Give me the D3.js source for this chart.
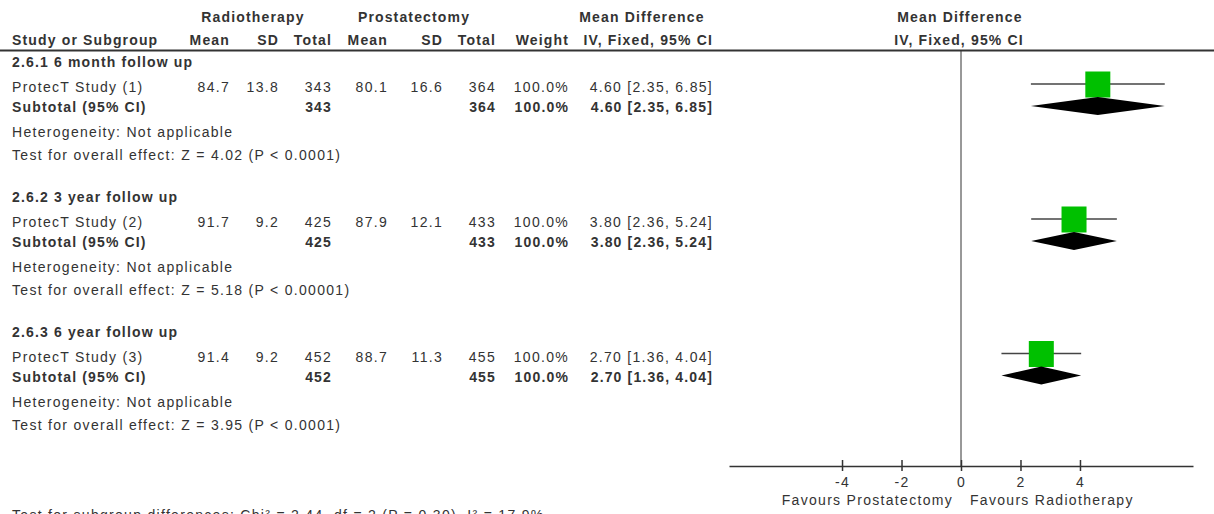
<!DOCTYPE html>
<html>
<head>
<meta charset="utf-8">
<script src="https://cdn.jsdelivr.net/npm/d3@7"></script>
<style>
  html, body { margin: 0; padding: 0; background: #fff; }
  svg { display: block; }
  text { font-family: "Liberation Sans", Arial, sans-serif; font-size: 14px; fill: #333; letter-spacing: 1.3px; }
  text.b { font-weight: bold; letter-spacing: 1.15px; }
</style>
</head>
<body>
<svg id="chart" width="1214" height="514"></svg>
<script>
// Subgroups and study rows
const groups = ["2.6.1 6 month follow up", "2.6.2 3 year follow up", "2.6.3 6 year follow up"];
const studies = ["ProtecT Study (1)", "ProtecT Study (2)", "ProtecT Study (3)"];
const radMean = [84.7, 91.7, 91.4];
const radSD = [13.8, 9.2, 9.2];
const radTotal = [343, 425, 452];
const proMean = [80.1, 87.9, 88.7];
const proSD = [16.6, 12.1, 11.3];
const proTotal = [364, 433, 455];
const weights = [100, 100, 100];
const meanDiff = [4.60, 3.80, 2.70];
const ciLow = [2.35, 2.36, 1.36];
const ciHigh = [6.85, 5.24, 4.04];
const overallZ = ["4.02", "5.18", "3.95"];
const overallP = ["P < 0.0001", "P < 0.00001", "P < 0.0001"];
const tickValues = [-4, -2, 0, 2, 4];
const favourLabels = ["Favours Prostatectomy", "Favours Radiotherapy"];
const subgroupTest = "Test for subgroup differences: Chi\u00B2 = 2.44, df = 2 (P = 0.30), I\u00B2 = 17.9%";

const svg = d3.select("#chart");

// Table layout
const leftX = 12;
const colRight = { rMean: 230, rSD: 279, rTot: 332, pMean: 388, pSD: 443, pTot: 496, w: 569, ci: 713 };
const groupTop = [62, 197, 331.5];
const base = 5; // text baseline offset from row centre

// Plot scales
const x = d3.scaleLinear().domain([-7.8, 7.8]).range([729, 1193]);
const size = d3.scaleSqrt().domain([0, 100]).range([0, 25]);
const axisY = 466;
const headerLineY = 50.5;

function txt(g, s, xPos, y, anchor, bold) {
  return g.append("text")
    .attr("x", xPos).attr("y", y + base)
    .attr("text-anchor", anchor || "start")
    .attr("class", bold ? "b" : null)
    .text(s);
}

const fmt1 = d3.format(".1f");
const fmt2 = d3.format(".2f");
const ciText = i => `${fmt2(meanDiff[i])} [${fmt2(ciLow[i])}, ${fmt2(ciHigh[i])}]`;

// Column headers
const hdr = svg.append("g");
txt(hdr, "Radiotherapy", 253, 17, "middle", true);
txt(hdr, "Prostatectomy", 414, 17, "middle", true);
txt(hdr, "Mean Difference", 642, 17, "middle", true);
txt(hdr, "Mean Difference", 960, 17, "middle", true);
txt(hdr, "Study or Subgroup", leftX, 40, "start", true);
txt(hdr, "Mean", colRight.rMean, 40, "end", true);
txt(hdr, "SD", colRight.rSD, 40, "end", true);
txt(hdr, "Total", colRight.rTot, 40, "end", true);
txt(hdr, "Mean", colRight.pMean, 40, "end", true);
txt(hdr, "SD", colRight.pSD, 40, "end", true);
txt(hdr, "Total", colRight.pTot, 40, "end", true);
txt(hdr, "Weight", colRight.w, 40, "end", true);
txt(hdr, "IV, Fixed, 95% CI", colRight.ci, 40, "end", true);
txt(hdr, "IV, Fixed, 95% CI", 959, 40, "middle", true);

svg.append("line")
  .attr("x1", 0).attr("x2", 1214)
  .attr("y1", headerLineY).attr("y2", headerLineY)
  .attr("stroke", "#333").attr("stroke-width", 2);

// Line of no effect
svg.append("line")
  .attr("x1", x(0)).attr("x2", x(0))
  .attr("y1", headerLineY).attr("y2", axisY)
  .attr("stroke", "#333").attr("stroke-width", 1);

// Subgroup blocks
groups.forEach((name, i) => {
  const g = svg.append("g");
  const y0 = groupTop[i];
  const yStudy = y0 + 25, ySub = y0 + 45, yHet = y0 + 70, yTest = y0 + 93;

  txt(g, name, leftX, y0, "start", true);

  txt(g, studies[i], leftX, yStudy);
  txt(g, fmt1(radMean[i]), colRight.rMean, yStudy, "end");
  txt(g, fmt1(radSD[i]), colRight.rSD, yStudy, "end");
  txt(g, radTotal[i], colRight.rTot, yStudy, "end");
  txt(g, fmt1(proMean[i]), colRight.pMean, yStudy, "end");
  txt(g, fmt1(proSD[i]), colRight.pSD, yStudy, "end");
  txt(g, proTotal[i], colRight.pTot, yStudy, "end");
  txt(g, fmt1(weights[i]) + "%", colRight.w, yStudy, "end");
  txt(g, ciText(i), colRight.ci, yStudy, "end");

  txt(g, "Subtotal (95% CI)", leftX, ySub, "start", true);
  txt(g, radTotal[i], colRight.rTot, ySub, "end", true);
  txt(g, proTotal[i], colRight.pTot, ySub, "end", true);
  txt(g, fmt1(weights[i]) + "%", colRight.w, ySub, "end", true);
  txt(g, ciText(i), colRight.ci, ySub, "end", true);

  txt(g, "Heterogeneity: Not applicable", leftX, yHet);
  txt(g, `Test for overall effect: Z = ${overallZ[i]} (${overallP[i]})`, leftX, yTest);

  // Study estimate: CI whisker and weighted square
  const cy = y0 + 22;
  g.append("line")
    .attr("x1", x(ciLow[i])).attr("x2", x(ciHigh[i]))
    .attr("y1", cy).attr("y2", cy)
    .attr("stroke", "#444").attr("stroke-width", 1.5);
  const s = size(weights[i]);
  g.append("rect")
    .attr("x", x(meanDiff[i]) - s / 2).attr("y", cy - 12.5)
    .attr("width", s).attr("height", s + 1)
    .attr("fill", "#00c000");

  // Pooled estimate diamond
  const dy = y0 + 44, h = 9;
  g.append("path")
    .attr("d", `M${x(ciLow[i])},${dy} L${x(meanDiff[i])},${dy - h} L${x(ciHigh[i])},${dy} L${x(meanDiff[i])},${dy + h} Z`)
    .attr("fill", "#000");
});

// Axis
const axis = svg.append("g")
  .attr("transform", `translate(0,${axisY})`)
  .call(d3.axisBottom(x).tickValues(tickValues).tickSize(5).tickPadding(6).tickSizeOuter(0).tickFormat(d => String(d)));
axis.select(".domain").attr("stroke", "#333").attr("stroke-width", 1.5);
axis.selectAll(".tick line").attr("y1", -6).attr("stroke", "#333").attr("stroke-width", 1.5);
axis.selectAll(".tick text")
  .style("font-family", "\"Liberation Sans\", Arial, sans-serif")
  .style("font-size", "14px").style("fill", "#333").style("letter-spacing", "1.3px");

txt(svg, favourLabels[0], x(0) - 8, 500, "end");
txt(svg, favourLabels[1], x(0) + 9, 500, "start");

txt(svg, subgroupTest, leftX, 515);
</script>
</body>
</html>
